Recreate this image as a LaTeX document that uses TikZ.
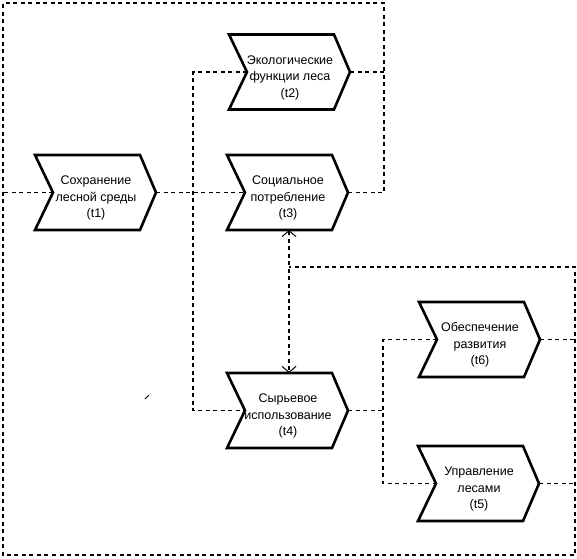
\documentclass[tikz,border=0pt]{standalone}
\usepackage{fontspec}
\setmainfont{Liberation Sans}
\usetikzlibrary{arrows.meta}
\tikzset{
  chevbox/.style={draw=black, line width=2.6pt, line join=miter, fill=white},
  conn/.style={draw=black, line width=1.3pt, dash pattern=on 4pt off 3.5pt},
  dblarrow/.style={conn, {Straight Barb[length=6pt,width=14pt,line width=1pt]}-{Straight Barb[length=6pt,width=14pt,line width=1pt]}},
  chevtext/.style={align=center, inner sep=0pt, font=\fontsize{12.5}{16.5}\selectfont}
}
\newcommand{\chev}[4]{%
  \draw[chevbox] (#2,#3) -- ++(105,0) -- ++(16,37.5) -- ++(-16,37.5) -- ++(-105,0) -- ++(18,-37.5) -- cycle;
  \path (#2,#3) ++(18,37.5) coordinate (#1in);
  \path (#2,#3) ++(121,37.5) coordinate (#1out);
  \path (#2,#3) ++(62,0) coordinate (#1top);
  \path (#2,#3) ++(62,75) coordinate (#1bot);
  \node[chevtext] (#1) at ([shift={(61,43)}]#2,#3) {#4};
}
\begin{document}
\begin{tikzpicture}[x=1pt,y=-1pt]
\useasboundingbox (0,0) rectangle (577,558);
% corner coordinates of frame lines
\coordinate (TL) at (3,3);
\coordinate (TR) at (384,3);
\coordinate (BL) at (3,555);
\coordinate (BR) at (575,555);
\coordinate (RJ) at (575,267);
\coordinate (AJ) at (289,267);
\coordinate (J1) at (193,0);
\coordinate (J2) at (383,0);
% chevrons
\chev{t1}{35}{155}{Сохранение\\лесной среды\\(t1)}
\chev{t2}{229}{34.5}{Экологические\\функции леса\\(t2)}
\chev{t3}{227}{155}{Социальное\\потребление\\(t3)}
\chev{t4}{227}{373}{Сырьевое\\использование\\(t4)}
\chev{t6}{419}{302}{Обеспечение\\развития\\(t6)}
\chev{t5}{418}{446}{Управление\\лесами\\(t5)}
% connectors
\draw[conn] (t3out) -| (TR) -- (TL) -- (BL) -- (BR) -- (RJ) -- (AJ);
\draw[conn] (t1in) -- (t1in -| TL);
\draw[conn] (t2out) -- (t2out -| TR);
\draw[conn] (t6out) -- (t6out -| BR);
\draw[conn] (t5out) -- (t5out -| BR);
\draw[conn] (t1out) -- (t3in);
\draw[conn] (t2in) -- (t2in -| J1) -- (t4in -| J1) -- (t4in);
\draw[conn] (t4out) -- (t4out -| J2);
\draw[conn] (t6in) -- (t6in -| J2) -- (t5in -| J2) -- (t5in);
\draw[dblarrow] (t3bot) -- (t4top);
% small stray mark
\draw[line width=1pt] (145,399) -- (149,395);
\end{tikzpicture}
\end{document}
